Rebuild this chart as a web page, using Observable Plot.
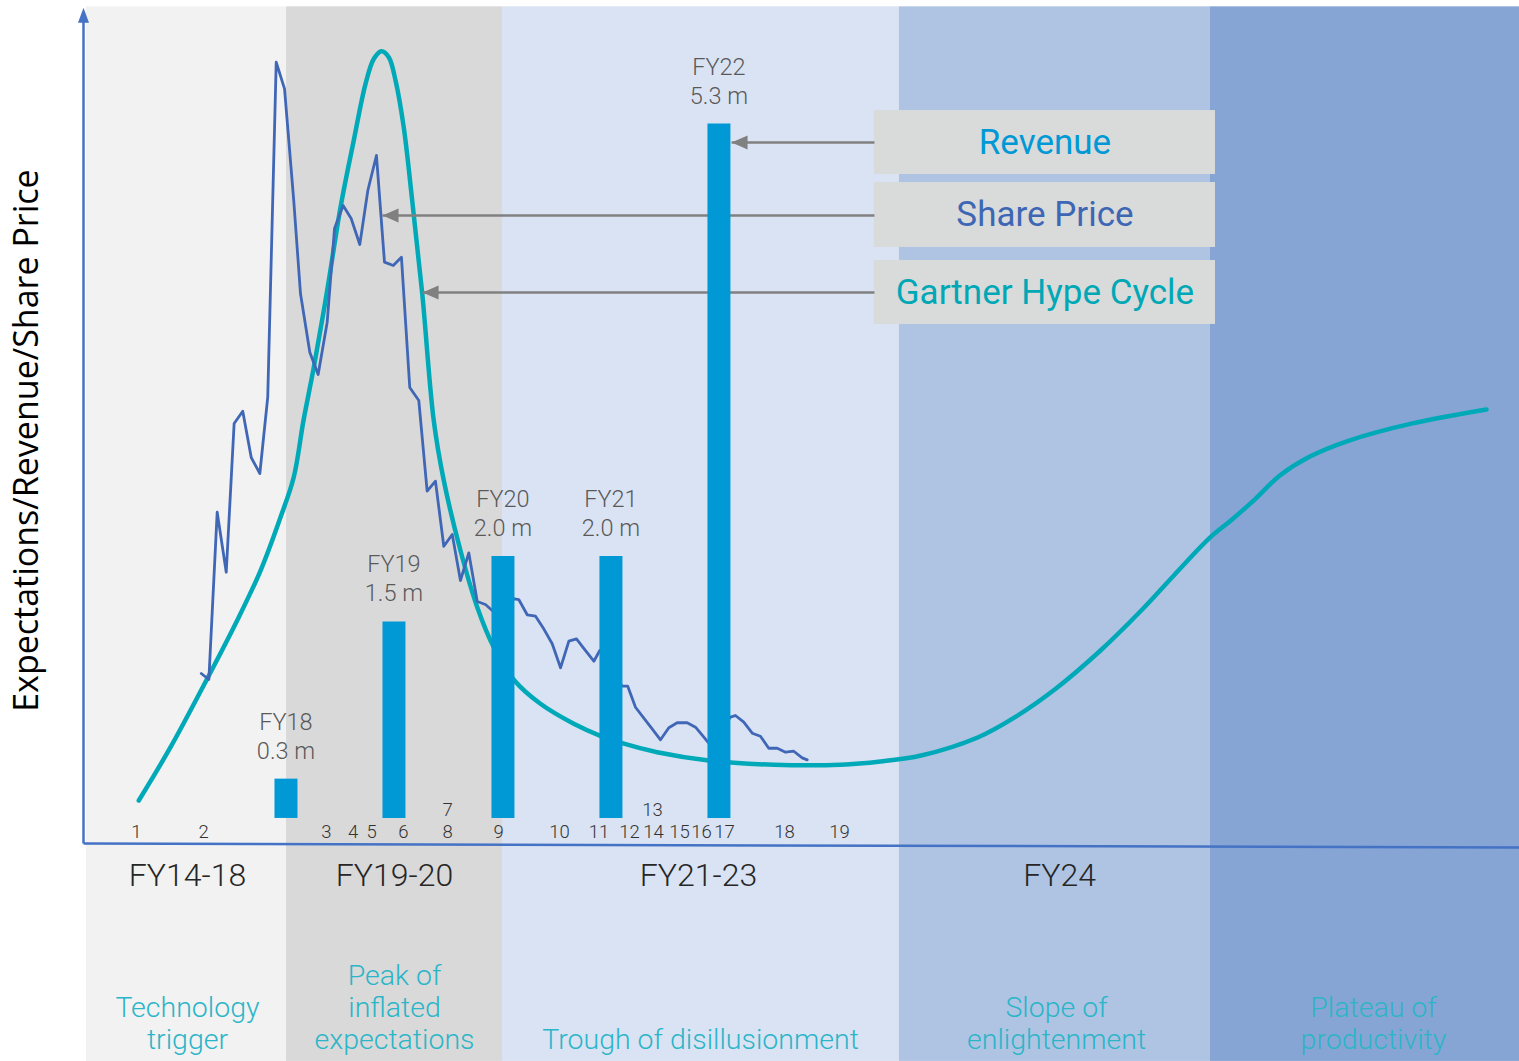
<!DOCTYPE html>
<html><head><meta charset="utf-8">
<script src="https://cdn.jsdelivr.net/npm/d3@7"></script>
<script src="https://cdn.jsdelivr.net/npm/@observablehq/plot@0.6"></script>
<style>body{margin:0;background:#fff}</style>
</head><body><div id="chart"></div>
<script>
// ---------- data (chart units: x 0..100 along the time axis, y 0..100 expectation) ----------
const phaseNames = ["Technology\ntrigger", "Peak of\ninflated\nexpectations", "Trough of disillusionment", "Slope of\nenlightenment", "Plateau of\nproductivity"];
const phaseStart = [0.2, 14.14, 29.18, 56.82, 78.48];
const phaseEnd = [14.14, 29.18, 56.82, 78.48, 100];
const phaseLabelX = [7.24, 21.66, 42.97, 67.76, 89.83];
const periodLabels = ["FY14-18", "FY19-20", "FY21-23", "FY24"];
const periodX = [7.24, 21.66, 42.83, 67.97];

const revenueYears = ["FY18", "FY19", "FY20", "FY21", "FY22"];
const revenueM = [0.3, 1.5, 2.0, 2.0, 5.3];
const revenueX = [14.10, 21.62, 29.21, 36.73, 44.25];

const eventLabels = ["1","2","3","4","5","6","7","8","9","10","11","12","13","14","15","16","17","18","19"];
const eventX = [3.69, 8.36, 16.92, 18.77, 20.06, 22.28, 25.35, 25.35, 28.90, 33.15, 35.90, 38.02, 39.62, 39.69, 41.50, 43.04, 44.64, 48.82, 52.65];
const eventRow = [0,0,0,0,0,0,1,0,0,0,0,0,1,0,0,0,0,0,0];

const hypeX = [3.85, 6.06, 8.61, 10.70, 12.33, 13.72, 14.64, 15.32, 16.04, 16.97, 17.90, 18.82, 19.64, 20.22, 20.75, 21.26, 21.73, 22.30, 22.89, 23.59, 24.39, 25.09, 26.25, 27.42, 28.57, 30.01, 31.82, 34.14, 35.95, 37.51, 39.95, 43.54, 48.07, 52.72, 55.50, 58.33, 62.31, 64.87, 67.70, 70.82, 73.66, 75.93, 78.48, 79.90, 81.61, 83.31, 85.30, 88.13, 92.39, 97.70];
const hypeY = [5.15, 11.53, 19.72, 26.71, 32.69, 39.08, 43.87, 50.66, 57.04, 66.23, 76.20, 84.19, 90.98, 93.98, 94.89, 94.17, 91.38, 85.78, 77.01, 65.83, 50.66, 43.47, 35.09, 28.30, 23.51, 19.52, 16.73, 14.34, 12.93, 12.01, 10.93, 9.94, 9.43, 9.43, 9.82, 10.54, 12.73, 15.13, 18.53, 23.11, 27.90, 32.10, 36.68, 38.68, 41.28, 44.07, 46.26, 48.26, 50.26, 51.98];

const shareX = [8.20, 8.73, 9.31, 9.94, 10.49, 11.09, 11.68, 12.28, 12.83, 13.42, 14.00, 14.64, 15.11, 15.76, 16.34, 16.97, 17.48, 18.08, 18.64, 19.24, 19.80, 20.40, 20.96, 21.57, 22.14, 22.72, 23.35, 23.93, 24.51, 25.09, 25.68, 26.25, 26.83, 27.42, 27.99, 28.46, 30.01, 30.31, 30.90, 31.48, 32.05, 32.64, 33.22, 33.80, 34.33, 34.96, 35.54, 35.95, 37.51, 37.90, 38.44, 39.02, 39.60, 40.18, 40.76, 41.34, 42.04, 42.62, 43.20, 43.54, 45.06, 45.40, 45.98, 46.57, 47.14, 47.72, 48.31, 48.89, 49.46, 50.05, 50.40];
const shareY = [20.36, 19.64, 39.68, 32.49, 50.30, 51.77, 46.23, 44.31, 53.45, 93.57, 90.38, 77.01, 65.87, 58.84, 56.17, 62.43, 73.65, 76.41, 74.85, 71.74, 78.20, 82.40, 69.62, 69.22, 70.22, 54.61, 53.05, 42.19, 43.39, 35.60, 37.01, 31.50, 34.81, 28.98, 28.62, 27.90, 29.31, 29.22, 27.39, 27.22, 25.71, 23.92, 21.04, 24.23, 24.51, 23.11, 21.83, 23.11, 18.84, 18.84, 16.32, 15.01, 13.74, 12.42, 13.86, 14.46, 14.46, 13.93, 12.73, 12.01, 15.13, 15.33, 14.53, 13.21, 12.85, 11.41, 11.41, 10.93, 11.05, 10.26, 10.02];

const legendLabels = ["Revenue", "Share Price", "Gartner Hype Cycle"];
const legendColors = ["#0099d6", "#3d67b4", "#00a8b6"];
const legendTop = [87.78, 79.16, 69.82];
const legendBottom = [80.12, 71.38, 62.16];
const arrowTipX = [45.13, 20.82, 23.61];
const arrowY = [83.95, 75.21, 65.99];

// ---------- derived tables ----------
const bands = phaseNames.map((name, i) => ({name, x1: phaseStart[i], x2: phaseEnd[i], lx: phaseLabelX[i], i}));
const periods = periodLabels.map((t, i) => ({t, x: periodX[i]}));
const rev = revenueYears.map((year, i) => ({year, m: revenueM[i], x: revenueX[i], label: revenueM[i].toFixed(1) + " m"}));
const events = eventLabels.map((t, i) => ({t, x: eventX[i], row: eventRow[i]}));
const hype = hypeX.map((x, i) => ({x, y: hypeY[i]}));
const share = shareX.map((x, i) => ({x, y: shareY[i]}));
const legend = legendLabels.map((t, i) => ({t, color: legendColors[i], top: legendTop[i], bottom: legendBottom[i], tip: arrowTipX[i], y: arrowY[i]}));

const bandFill = ["#f2f2f2", "#d9d9d9", "#dae3f3", "#afc4e3", "#86a5d4"];
const barBase = 3, unitsPerM = 15.69, legendLeft = 55.08, legendRight = 78.83;

// arrowhead symbols, tip at origin
const headLeft = {draw(ctx) { ctx.moveTo(0, 0); ctx.lineTo(16, -7); ctx.lineTo(16, 7); ctx.closePath(); }};
const headUp = {draw(ctx) { ctx.moveTo(0, 0); ctx.lineTo(-5.5, 15); ctx.lineTo(5.5, 15); ctx.closePath(); }};

const axisColor = "#4472c4";
const FONT = "Roboto";

const chart = Plot.plot({
  width: 1519, height: 1061,
  marginLeft: 83, marginRight: 0, marginTop: 8, marginBottom: 218,
  x: {domain: [0, 100], axis: null},
  y: {domain: [0, 100], axis: null},
  style: {background: "white", overflow: "visible"},
  marks: [
    Plot.rect(bands, {x1: "x1", x2: "x2", y1: -26.1, y2: 100.2, fill: (d) => bandFill[d.i]}),
    Plot.rect(legend, {x1: legendLeft, x2: legendRight, y1: "bottom", y2: "top", fill: "#d9dada"}),
    Plot.line(hype, {x: "x", y: "y", curve: "catmull-rom", stroke: "#00a9b7", strokeWidth: 4.5}),
    Plot.line(share, {x: "x", y: "y", stroke: "#3f67b6", strokeWidth: 2.8, strokeLinejoin: "round"}),
    Plot.link(legend, {x1: legendLeft, x2: (d) => d.tip, y1: "y", y2: "y", stroke: "#808080", strokeWidth: 2.5}),
    Plot.dot(legend, {x: "tip", y: "y", symbol: headLeft, fill: "#808080", r: 6}),
    Plot.ruleX(rev, {x: "x", y1: barBase, y2: (d) => barBase + d.m * unitsPerM, stroke: "#0099d6", strokeWidth: 23}),
    // axes
    Plot.link([0], {x1: 0, y1: 0, x2: 100, y2: -0.48, stroke: axisColor, strokeWidth: 2.5}),
    Plot.link([0], {x1: 0, y1: 0, x2: 0, y2: 99, stroke: axisColor, strokeWidth: 2.5}),
    Plot.dot([0], {x: 0, y: 100.1, symbol: headUp, fill: axisColor, r: 5}),
    // texts
    Plot.text(["Expectations/Revenue/Share Price"], {x: -3.9, y: 48.26, text: (d) => d, rotate: -90, fontSize: 34, fill: "#000", fontFamily: "Open Sans"}),
    Plot.text(rev, {x: "x", y: (d) => barBase + d.m * unitsPerM, text: "year", dy: -57, fontSize: 23.5, fill: "#595959", fontFamily: FONT, fontWeight: 300}),
    Plot.text(rev, {x: "x", y: (d) => barBase + d.m * unitsPerM, text: "label", dy: -28, fontSize: 23.5, fill: "#595959", fontFamily: FONT, fontWeight: 300}),
    Plot.text(events, {x: "x", y: (d) => d.row ? 3.95 : 1.32, text: "t", fontSize: 18.5, fill: "#333", fontFamily: FONT, fontWeight: 300}),
    Plot.text(periods, {x: "x", y: -3.83, text: "t", fontSize: 32, fill: "#262626", fontFamily: FONT, fontWeight: 300}),
    Plot.text(bands, {x: "lx", y: -24.67, text: "name", lineAnchor: "bottom", lineHeight: 1.13, fontSize: 28.5, fill: "#2bb5c8", fontFamily: FONT, fontWeight: 300}),
    Plot.text(legend, {x: (legendLeft + legendRight) / 2, y: (d) => (d.top + d.bottom) / 2, text: "t", fill: "color", fontSize: 35, fontFamily: FONT})
  ]
});
document.getElementById("chart").appendChild(chart);
</script>
</body></html>
